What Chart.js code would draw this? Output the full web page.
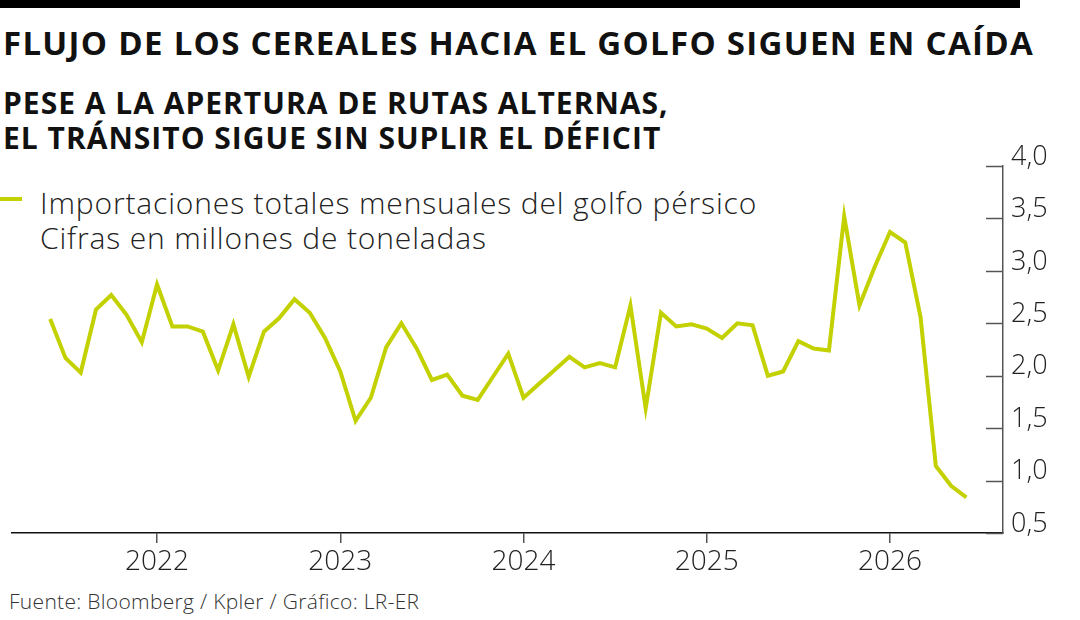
<!DOCTYPE html>
<html>
<head>
<meta charset="utf-8">
<script src="https://cdn.jsdelivr.net/npm/chart.js@4.4.1/dist/chart.umd.min.js"></script>
<style>
  html, body { margin: 0; padding: 0; background: #fff; }
  #wrap { position: relative; width: 1080px; height: 620px; overflow: hidden; font-family: "Open Sans", sans-serif; color: #111; }
  #bar { position: absolute; left: 0; top: 0; width: 1020px; height: 8px; background: #000; }
  .t { position: absolute; white-space: nowrap; }
  #title { left: 3px; top: 26px; font-size: 33px; line-height: 33px; font-weight: 700; letter-spacing: 1.3px; }
  #sub { left: 3px; top: 85px; font-size: 30px; line-height: 35px; font-weight: 700; letter-spacing: 1px; }
  #leg { left: 40px; top: 185px; font-size: 30px; line-height: 35px; font-weight: 300; color: #222; letter-spacing: 0.85px; }
  #legline { position: absolute; left: 0; top: 197px; width: 22px; height: 4px; background: #c3d100; }
  #src { left: 9px; top: 591px; font-size: 21px; line-height: 21px; font-weight: 300; color: #333; letter-spacing: 0.3px; }
  canvas { position: absolute; left: 0; top: 0; }
</style>
</head>
<body>
<div id="wrap">
  <div id="bar"></div>
  <div class="t" id="title">FLUJO DE LOS CEREALES HACIA EL GOLFO SIGUEN EN CAÍDA</div>
  <div class="t" id="sub">PESE A LA APERTURA DE RUTAS ALTERNAS,<br>EL TRÁNSITO SIGUE SIN SUPLIR EL DÉFICIT</div>
  <div id="legline"></div>
  <div class="t" id="leg">Importaciones totales mensuales del golfo pérsico<br>Cifras en millones de toneladas</div>
  <div class="t" id="src">Fuente: Bloomberg / Kpler / Gráfico: LR-ER</div>
  <canvas id="myChart" width="1080" height="620"></canvas>
</div>
<script>
// monthly imports, millions of tonnes
const months = [
  '2021-06', '2021-07', '2021-08', '2021-09', '2021-10', '2021-11', '2021-12',
  '2022-01', '2022-02', '2022-03', '2022-04', '2022-05', '2022-06', '2022-07', '2022-08', '2022-09', '2022-10', '2022-11', '2022-12',
  '2023-01', '2023-02', '2023-03', '2023-04', '2023-05', '2023-06', '2023-07', '2023-08', '2023-09', '2023-10', '2023-11', '2023-12',
  '2024-01', '2024-02', '2024-03', '2024-04', '2024-05', '2024-06', '2024-07', '2024-08', '2024-09', '2024-10', '2024-11', '2024-12',
  '2025-01', '2025-02', '2025-03', '2025-04', '2025-05', '2025-06', '2025-07', '2025-08', '2025-09', '2025-10', '2025-11', '2025-12',
  '2026-01', '2026-02', '2026-03', '2026-04', '2026-05', '2026-06'
];
const imports = [
  2.54, 2.17, 2.03, 2.63, 2.77, 2.58, 2.32,
  2.87, 2.47, 2.47, 2.42, 2.05, 2.49, 1.99, 2.42, 2.55, 2.73, 2.60, 2.36,
  2.04, 1.57, 1.79, 2.27, 2.50, 2.26, 1.96, 2.01, 1.81, 1.77, 1.99, 2.21,
  1.79, 1.92, 2.05, 2.18, 2.08, 2.12, 2.08, 2.67, 1.69, 2.60, 2.47, 2.49,
  2.45, 2.36, 2.50, 2.48, 2.00, 2.04, 2.33, 2.26, 2.24, 3.52, 2.67, 3.04,
  3.37, 3.27, 2.56, 1.14, 0.95, 0.84
];
const yearTicks = ['2022', '2023', '2024', '2025', '2026'];
const yTicks = [0.5, 1.0, 1.5, 2.0, 2.5, 3.0, 3.5, 4.0];

// months counted from Jan 2022
const toIndex = s => (parseInt(s.slice(0, 4)) - 2022) * 12 + parseInt(s.slice(5, 7)) - 1;
const points = months.map((m, i) => ({ x: toIndex(m), y: imports[i] }));
const yearIdx = yearTicks.map(y => toIndex(y + '-01'));

const fmt = v => v.toFixed(1).replace('.', ',');

const innerTicks = {
    id: 'innerTicks',
    afterDraw(chart) {
        const c = chart.ctx, ys = chart.scales.y, a = chart.chartArea;
        c.save();
        c.strokeStyle = '#555';
        c.lineWidth = 1.5;
        yTicks.forEach(v => {
            const p = Math.round(ys.getPixelForValue(v)) + 0.5;
            c.beginPath();
            c.moveTo(a.right - 17, p);
            c.lineTo(a.right, p);
            c.stroke();
        });
        c.restore();
    }
};

new Chart(document.getElementById('myChart'), {
    type: 'line',
    data: {
        datasets: [{
            data: points,
            borderColor: '#c3d100',
            borderWidth: 4,
            pointRadius: 0,
            tension: 0,
            fill: false
        }]
    },
    options: {
        responsive: false,
        animation: false,
        layout: { padding: { top: 166, left: 12, right: 0, bottom: 0 } },
        plugins: { legend: { display: false }, tooltip: { enabled: false } },
        scales: {
            x: {
                type: 'linear',
                min: -9.5,
                max: 55.4,
                afterBuildTicks: s => { s.ticks = yearIdx.map(v => ({ value: v })); },
                afterFit: s => { s.height = 87; },
                grid: { drawOnChartArea: false, tickLength: 10, color: '#555', lineWidth: 1.5 },
                border: { color: '#111', width: 1.5 },
                ticks: {
                    callback: v => yearTicks[yearIdx.indexOf(v)],
                    font: { family: 'Open Sans', size: 28, weight: 300 },
                    color: '#222',
                    padding: 2,
                    maxRotation: 0
                }
            },
            y: {
                position: 'right',
                min: 0.5,
                max: 4.0,
                afterBuildTicks: s => { s.ticks = yTicks.map(v => ({ value: v })); },
                afterFit: s => { s.width = 77; },
                grid: { drawOnChartArea: false, drawTicks: false },
                border: { color: '#555', width: 1.5 },
                ticks: {
                    callback: v => fmt(v),
                    font: { family: 'Open Sans', size: 27, weight: 300 },
                    color: '#222',
                    padding: 8,
                    labelOffset: -9
                }
            }
        }
    },
    plugins: [innerTicks]
});
</script>
</body>
</html>
